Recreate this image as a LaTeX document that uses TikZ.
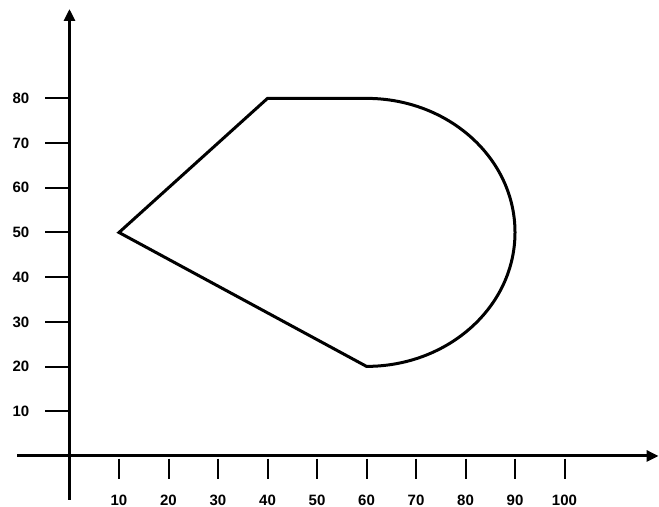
\documentclass[tikz,border=0pt]{standalone}
\usepackage{fontspec}
\setmainfont{Liberation Sans}
\usetikzlibrary{arrows.meta}
\begin{document}
\begin{tikzpicture}[x=4.95pt,y=4.47pt,
  axis/.style={line width=3pt,-{Triangle[length=12pt,width=11pt]}},
  tickline/.style={line width=2pt},
  lbl/.style={font=\bfseries\fontsize{15pt}{17pt}\selectfont,inner sep=0pt},
  outline/.style={line width=3pt,line join=miter}]
\useasboundingbox (-14.04,-11.41) rectangle (119.09,102.01);
\draw[axis] (0,-9.84) -- (0,100);
\draw[axis] (-10.6,0) -- (119,0);
\foreach \v in {10,20,...,80}{
  \draw[tickline] (-4.9,\v) -- (0,\v);
  \node[lbl] (y\v) at (-9.8,\v) {\v};
}
\foreach \v in {10,20,...,100}{
  \draw[tickline] (\v,-0.6) -- (\v,-5.1);
  \node[lbl,anchor=base] (x\v) at (\v,-11.0) {\v};
}
\draw[outline] (10,50) -- (40,80) -- (60,80)
  arc[start angle=90,end angle=-90,x radius=148.5pt,y radius=134pt] -- cycle;
\end{tikzpicture}
\end{document}
